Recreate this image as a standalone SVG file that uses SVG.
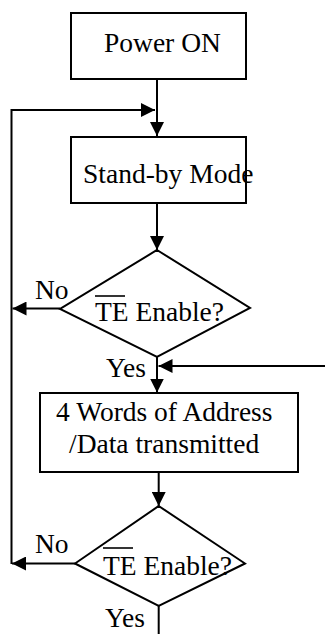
<svg xmlns="http://www.w3.org/2000/svg" width="325" height="634" viewBox="0 0 325 634">
  <style>
    .box { fill: #fff; stroke: #000; stroke-width: 2; }
    .ln { fill: none; stroke: #000; stroke-width: 2; }
    .t { font-size: 27.5px; fill: #000; }
    .ol { stroke: #000; stroke-width: 1.6; }
  </style>
  <defs>
    <marker id="arr" viewBox="0 0 14 14" refX="14" refY="7" markerWidth="14" markerHeight="14" markerUnits="userSpaceOnUse" orient="auto">
      <path d="M0,0 L14,7 L0,14 Z" fill="#000"/>
    </marker>
  </defs>

  <rect width="325" height="634" fill="#fff"/>

  <g id="connectors">
    <!-- Power ON -> Stand-by -->
    <line class="ln" x1="157" y1="79" x2="157" y2="136" marker-end="url(#arr)"/>
    <!-- loop back into the stand-by path -->
    <polyline class="ln" points="11.5,564 11.5,110 155,110" marker-end="url(#arr)"/>
    <!-- Stand-by -> decision 1 -->
    <line class="ln" x1="157" y1="203" x2="157" y2="250" marker-end="url(#arr)"/>
    <!-- decision 1 No -->
    <line class="ln" x1="60" y1="308.5" x2="12.5" y2="308.5" marker-end="url(#arr)"/>
    <!-- decision 1 Yes -> transmit -->
    <line class="ln" x1="157" y1="357" x2="157" y2="392.5" marker-end="url(#arr)"/>
    <!-- external entry -->
    <line class="ln" x1="325" y1="366" x2="158.5" y2="366" marker-end="url(#arr)"/>
    <!-- transmit -> decision 2 -->
    <line class="ln" x1="158.7" y1="472" x2="158.7" y2="506" marker-end="url(#arr)"/>
    <!-- decision 2 No -->
    <line class="ln" x1="75" y1="563.5" x2="12" y2="563.5" marker-end="url(#arr)"/>
    <!-- decision 2 Yes -->
    <line class="ln" x1="158.7" y1="606" x2="158.7" y2="640"/>
  </g>

  <g id="power-on" font-family="Liberation Serif">
    <rect class="box" x="71" y="13" width="175" height="66"/>
    <text class="t" x="104" y="52">Power ON</text>
  </g>

  <g id="standby" font-family="Liberation Serif">
    <rect class="box" x="71" y="137" width="175" height="66"/>
    <text class="t" x="83" y="183">Stand-by Mode</text>
  </g>

  <g id="decision-1" font-family="Liberation Serif">
    <polygon class="box" points="157,250 250,308 157,357 60,309"/>
    <text class="t" x="95" y="321">TE Enable?</text>
    <line class="ol" x1="95" y1="296" x2="125" y2="296"/>
    <text class="t" x="35" y="299">No</text>
    <text class="t" x="106" y="377">Yes</text>
  </g>

  <g id="transmit" font-family="Liberation Serif">
    <rect class="box" x="40" y="393" width="258" height="79"/>
    <text class="t" x="56" y="421">4 Words of Address</text>
    <text class="t" x="69" y="453">/Data transmitted</text>
  </g>

  <g id="decision-2" font-family="Liberation Serif">
    <polygon class="box" points="158.7,506 245,563.5 158.7,606 75,563.5"/>
    <text class="t" x="103" y="575">TE Enable?</text>
    <line class="ol" x1="103" y1="548" x2="133" y2="548"/>
    <text class="t" x="35" y="553">No</text>
    <text class="t" x="105" y="627">Yes</text>
  </g>
</svg>
